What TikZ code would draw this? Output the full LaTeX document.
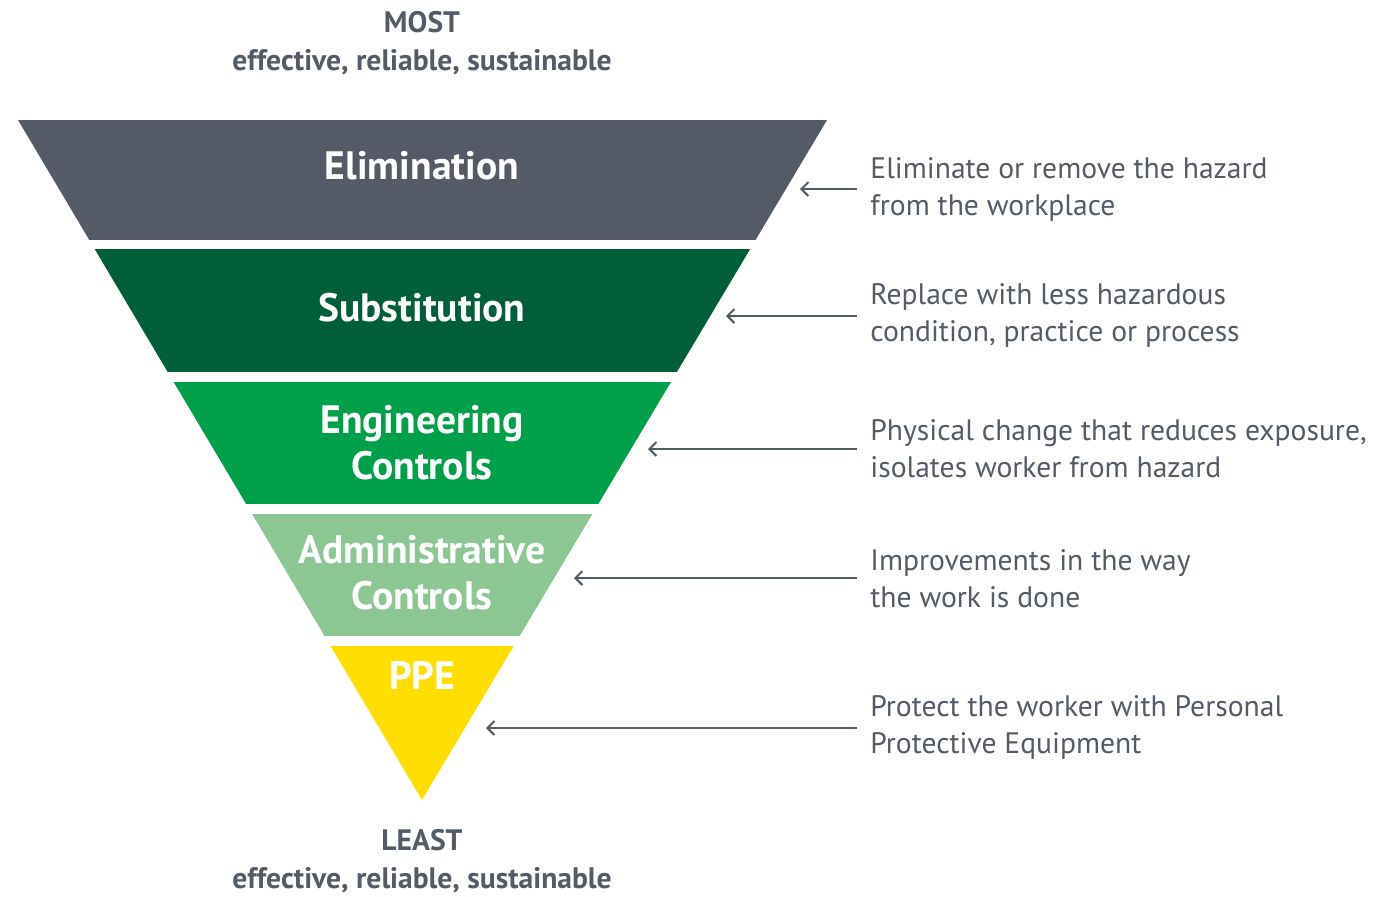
\documentclass[tikz,border=0pt]{standalone}
\usepackage{fontspec}
\setmainfont{PT Sans}
\usetikzlibrary{calc,arrows.meta}
\definecolor{elimgray}{HTML}{545A66}
\definecolor{subgreen}{HTML}{005F38}
\definecolor{enggreen}{HTML}{00A04A}
\definecolor{admgreen}{HTML}{8BC693}
\definecolor{ppeyellow}{HTML}{FFDE00}
\definecolor{txtgray}{HTML}{545A66}
\begin{document}
\begin{tikzpicture}[x=0.5pt,y=-0.5pt,
    band/.style={font=\bfseries\fontsize{19.8}{23}\selectfont,text=white,align=center},
    desc/.style={anchor=west,font=\fontsize{14.8}{18.5}\selectfont,text=txtgray,align=left,inner xsep=6.5pt},
    extreme/.style={font=\bfseries\fontsize{14.8}{19}\selectfont,text=txtgray,align=center},
    pointer/.style={draw=txtgray,line width=1pt,-{Straight Barb[length=3.5pt,width=7pt]}}]
  \useasboundingbox (0,0) rectangle (1376,896);
  % the funnel
  \coordinate (A) at (18,120);
  \coordinate (B) at (827,120);
  \coordinate (P) at (422,800);
  \begin{scope}
    \clip (A)--(B)--(P)--cycle;
    \fill[elimgray](0,120) rectangle (1376,240);
    \fill[subgreen](0,249) rectangle (1376,372);
    \fill[enggreen](0,382) rectangle (1376,504);
    \fill[admgreen](0,514) rectangle (1376,636);
    \fill[ppeyellow](0,646) rectangle (1376,800);
  \end{scope}
  % band labels
  \node[band](elim) at (422,166) {Elimination};
  \node[band](subst) at (422,308) {Substitution};
  \node[band](eng) at (422,443) {Engineering\\Controls};
  \node[band](adm) at (422,573) {Administrative\\Controls};
  \node[band](ppe) at (422,675) {PPE};
  % top and bottom
  \node[extreme](most) at (422,43) {MOST\\effective, reliable, sustainable};
  \node[extreme](least) at (422,861) {LEAST\\effective, reliable, sustainable};
  % descriptions
  \node[desc](d1) at (857,189) {Eliminate or remove the hazard\\from the workplace};
  \node[desc](d2) at (857,315) {Replace with less hazardous\\condition, practice or process};
  \node[desc](d3) at (857,449) {Physical change that reduces exposure,\\isolates worker from hazard};
  \node[desc](d4) at (857,579) {Improvements in the way\\the work is done};
  \node[desc](d5) at (857,727) {Protect the worker with Personal\\Protective Equipment};
  \coordinate (t1) at (800,189);
  \coordinate (t2) at (726,316);
  \coordinate (t3) at (648,449);
  \coordinate (t4) at (574,578);
  \coordinate (t5) at (486,728);
  \draw[pointer](d1.west|-t1)--(t1);
  \draw[pointer](d2.west|-t2)--(t2);
  \draw[pointer](d3.west|-t3)--(t3);
  \draw[pointer](d4.west|-t4)--(t4);
  \draw[pointer](d5.west|-t5)--(t5);
\end{tikzpicture}
\end{document}
